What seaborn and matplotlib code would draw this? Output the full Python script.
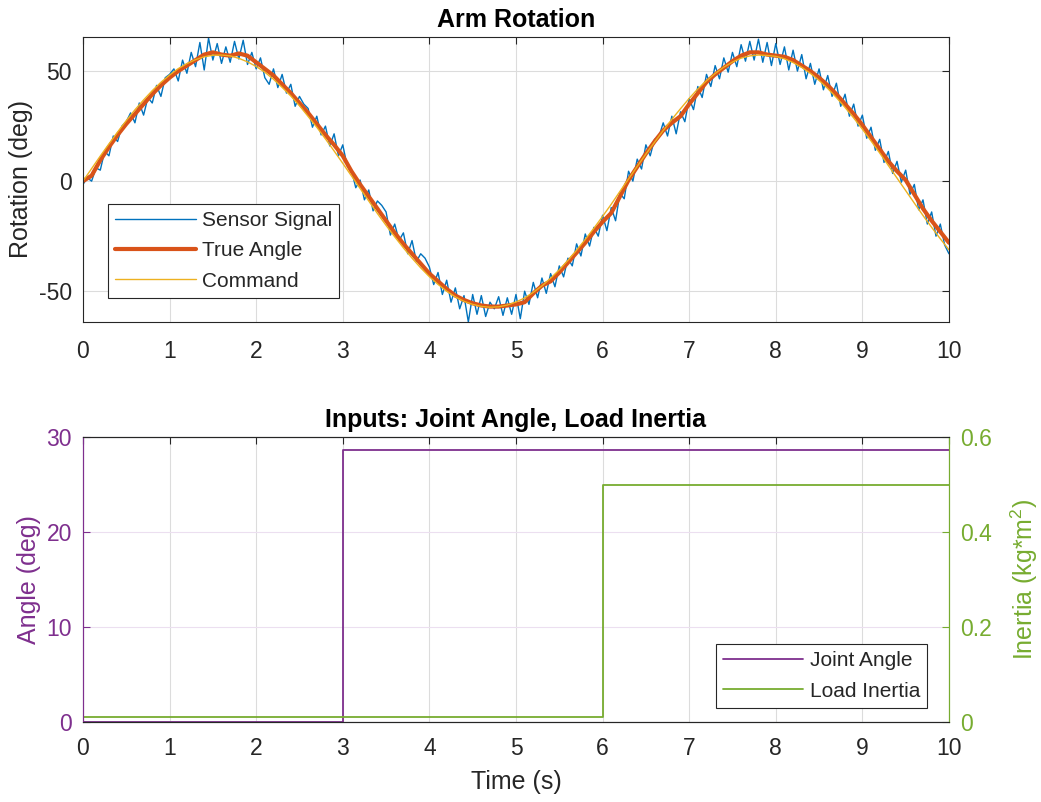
import numpy as np
import pandas as pd
import matplotlib
matplotlib.use('Agg')
import matplotlib.pyplot as plt
import seaborn as sns

# ---- data ----
# command, every 0.1 s
cmd_time = np.round(np.arange(0, 10.001, 0.1), 2)
command = [0.0, 5.7, 11.4, 16.9, 22.3, 27.5, 32.4, 36.9, 41.1, 44.9,
           48.2, 51.1, 53.4, 55.2, 56.5, 57.2, 57.3, 56.9, 55.8, 54.2,
           52.1, 49.5, 46.3, 42.6, 38.7, 34.3, 29.4, 24.5, 19.2, 13.7,
           8.1, 2.4, -3.3, -9.0, -14.7, -20.1, -25.3, -30.3, -35.0, -39.4,
           -43.4, -46.9, -50.0, -52.6, -54.6, -56.0, -56.9, -57.3, -57.1, -56.3,
           -54.9, -53.1, -50.5, -47.6, -44.1, -40.3, -36.0, -31.4, -26.5, -21.4,
           -16.0, -10.5, -4.7, 1.0, 6.7, 12.3, 17.7, 23.0, 28.1, 32.9,
           37.6, 41.9, 45.6, 48.9, 51.8, 54.1, 55.9, 56.9, 57.3, 57.1,
           56.7, 55.6, 53.9, 51.7, 49.0, 45.8, 42.1, 38.0, 33.5, 28.7,
           23.6, 18.3, 12.8, 7.1, 1.4, -4.3, -10.0, -15.6, -21.0, -26.2,
           -31.2]

# true angle, every 0.1 s
true_time = np.round(np.arange(0, 10.001, 0.1), 2)
true_angle = [0.0, 2.5, 9.5, 15.5, 21.0, 26.0, 30.5, 35.0, 39.5, 43.5,
              47.0, 50.0, 52.5, 55.0, 57.5, 58.5, 57.5, 57.0, 58.0, 57.0,
              54.0, 51.0, 48.0, 44.0, 40.0, 35.5, 31.0, 26.0, 21.0, 16.5,
              11.5, 4.5, -1.5, -7.0, -12.5, -18.0, -23.5, -28.5, -33.0, -37.5,
              -42.0, -45.5, -49.0, -52.0, -54.0, -55.5, -56.5, -57.0, -57.0, -56.5,
              -56.0, -55.0, -51.0, -47.5, -45.5, -41.5, -37.0, -32.5, -28.0, -23.0,
              -18.5, -14.5, -7.0, 0.5, 6.5, 12.5, 18.0, 23.0, 26.5, 29.5,
              35.0, 40.0, 45.0, 48.5, 51.5, 54.5, 57.0, 58.5, 58.5, 57.5,
              57.0, 56.5, 55.0, 52.5, 50.0, 47.0, 43.5, 39.5, 35.0, 30.5,
              25.5, 20.0, 14.5, 9.0, 4.5, 0.5, -6.0, -12.5, -18.0, -23.0,
              -28.0]

# noisy sensor, every 0.05 s
sensor_time = np.round(np.arange(0, 10.001, 0.05), 2)
sensor = [-1.5, 1.5, 0.0, 6.0, 5.0, 13.5, 11.5, 20.5, 18.0, 25.0,
          27.0, 31.0, 26.5, 35.5, 30.0, 38.0, 35.5, 43.5, 38.5, 47.0,
          48.5, 51.0, 45.5, 55.0, 49.0, 58.5, 52.0, 63.0, 50.5, 65.0,
          55.0, 62.5, 53.5, 61.0, 54.0, 63.5, 55.5, 64.0, 53.0, 58.5,
          51.0, 56.0, 47.0, 44.0, 51.0, 42.5, 48.5, 40.0, 44.0, 34.0,
          38.5, 35.0, 33.0, 24.5, 29.5, 21.0, 25.0, 16.0, 21.5, 11.5,
          16.5, 7.0, 5.0, -3.0, 0.5, -8.5, -4.0, -13.5, -9.0, -11.0,
          -14.0, -24.5, -19.5, -27.0, -23.5, -33.0, -27.0, -36.5, -33.0, -35.0,
          -39.0, -47.0, -41.5, -51.5, -45.0, -55.0, -48.5, -58.0, -52.0, -64.0,
          -51.5, -60.5, -52.0, -61.5, -55.0, -58.0, -52.5, -61.0, -53.0, -60.5,
          -51.5, -62.5, -50.0, -56.0, -46.0, -53.0, -44.0, -51.0, -42.0, -48.0,
          -38.5, -43.5, -35.0, -38.5, -28.5, -34.0, -24.0, -29.5, -21.0, -25.0,
          -15.5, -22.5, -12.0, -18.0, -5.5, -8.0, 4.5, 0.0, 10.0, 5.5,
          16.5, 11.5, 19.0, 20.0, 26.5, 20.5, 29.5, 21.5, 31.5, 27.0,
          37.5, 32.5, 43.0, 38.0, 48.5, 43.0, 52.5, 46.5, 56.0, 49.5,
          58.5, 52.0, 62.0, 54.5, 63.5, 55.0, 64.5, 54.0, 63.0, 52.5,
          62.5, 53.0, 61.0, 50.5, 59.5, 50.0, 57.5, 46.5, 53.5, 44.0,
          51.0, 41.5, 48.0, 38.5, 44.5, 34.0, 39.5, 29.5, 35.0, 25.0,
          30.0, 19.5, 24.5, 14.0, 19.0, 8.5, 13.5, 3.5, 9.0, -0.5,
          5.0, -6.0, -1.5, -13.0, -8.5, -19.5, -14.0, -25.0, -19.5, -29.0,
          -33.0]

# inputs (step signals)
joint_time = [0, 3, 10]
joint_angle = [0.0, 28.65, 28.65]
inertia_time = [0, 6, 10]
load_inertia = [0.01, 0.5, 0.5]

sns.set_style('white')
plt.rcParams['font.family'] = ['Liberation Sans', 'DejaVu Sans']
plt.rcParams['mathtext.fontset'] = 'custom'
plt.rcParams['mathtext.rm'] = 'Liberation Sans'
plt.rcParams['axes.unicode_minus'] = False

dark = '#262626'
blue = '#0072BD'
orange = '#D95319'
yellow = '#EDB120'
purple = '#7E2F8E'
green = '#77AC30'
grid_c = '#dcdcdc'
fs_tick = 16.5
fs_lab = 18
fs_leg = 15

fig = plt.figure(figsize=(10.41, 8.02), dpi=100)
ax1 = fig.add_axes([0.0797, 0.5985, 0.8319, 0.3554])
ax2 = fig.add_axes([0.0797, 0.0998, 0.8319, 0.3553])

# ---- top: arm rotation ----
sns.lineplot(x=sensor_time, y=sensor, ax=ax1, color=blue, linewidth=1.0,
             label='Sensor Signal', estimator=None)
sns.lineplot(x=true_time, y=true_angle, ax=ax1, color=orange, linewidth=3.0,
             label='True Angle', estimator=None)
sns.lineplot(x=cmd_time, y=command, ax=ax1, color=yellow, linewidth=1.0,
             label='Command', estimator=None)
ax1.set_xlim(0, 10)
ax1.set_ylim(-64, 65.5)
ax1.set_xticks(range(0, 11))
ax1.set_yticks([-50, 0, 50])
ax1.grid(True, color=grid_c, linewidth=0.8)
ax1.set_title('Arm Rotation', fontsize=fs_lab, fontweight='bold', color='black', pad=7)
ax1.set_ylabel('Rotation (deg)', fontsize=fs_lab, color=dark, labelpad=4)
ax1.tick_params(direction='in', length=5, width=0.8, colors=dark, labelsize=fs_tick,
                top=True, right=True)
ax1.tick_params(axis='x', pad=13)
ax1.tick_params(axis='y', pad=8)
for s in ax1.spines.values():
    s.set_color(dark)
    s.set_linewidth(0.8)
leg1 = ax1.legend(loc='lower left', bbox_to_anchor=(0.029, 0.084), borderaxespad=0,
                  fontsize=fs_leg, frameon=True, fancybox=False, framealpha=1,
                  edgecolor=dark, handlelength=3.85, handletextpad=0.3,
                  labelspacing=0.55, borderpad=0.35)
leg1.get_frame().set_linewidth(0.8)
for t in leg1.get_texts():
    t.set_color(dark)

# ---- bottom: inputs ----
ax3 = ax2.twinx()
sns.lineplot(x=joint_time, y=joint_angle, ax=ax2, color=purple, linewidth=1.3,
             drawstyle='steps-post', estimator=None, legend=False)
sns.lineplot(x=inertia_time, y=load_inertia, ax=ax3, color=green, linewidth=1.3,
             drawstyle='steps-post', estimator=None, legend=False)
ax2.set_xlim(0, 10)
ax2.set_ylim(0, 30)
ax3.set_ylim(0, 0.6)
ax2.set_xticks(range(0, 11))
ax2.set_yticks([0, 10, 20, 30])
ax3.set_yticks([0, 0.2, 0.4, 0.6])
ax3.set_yticklabels(['0', '0.2', '0.4', '0.6'])
ax2.xaxis.grid(True, color=grid_c, linewidth=0.8)
ax2.yaxis.grid(True, color='#ecdff0', linewidth=0.8)
ax2.set_title('Inputs: Joint Angle, Load Inertia', fontsize=fs_lab, fontweight='bold',
              color='black', pad=7)
ax2.set_xlabel('Time (s)', fontsize=fs_lab, color=dark, labelpad=7)
ax2.set_ylabel('Angle (deg)', fontsize=fs_lab, color=purple, labelpad=4)
ax3.set_ylabel('Inertia (kg*m$\\mathregular{^2}$)', fontsize=fs_lab, color=green, labelpad=12)
ax2.tick_params(axis='x', direction='in', length=5, width=0.8, colors=dark,
                labelsize=fs_tick, top=True, pad=11)
ax2.tick_params(axis='y', direction='in', length=5, width=0.8, colors=purple,
                labelsize=fs_tick, pad=8)
ax3.tick_params(axis='y', direction='in', length=5, width=0.8, colors=green,
                labelsize=fs_tick, pad=8)
for a in (ax2, ax3):
    for s in a.spines.values():
        s.set_color(dark)
        s.set_linewidth(0.8)
ax3.spines['left'].set_color(purple)
ax3.spines['right'].set_color(green)
ax2.spines['left'].set_color(purple)
ax2.spines['right'].set_color(green)

handles = ax2.get_lines()[:1] + ax3.get_lines()[:1]
leg2 = ax3.legend(handles, ['Joint Angle', 'Load Inertia'], loc='lower right',
                  bbox_to_anchor=(0.975, 0.049), borderaxespad=0,
                  fontsize=fs_leg, frameon=True, fancybox=False, framealpha=1,
                  edgecolor=dark, handlelength=3.85, handletextpad=0.3,
                  labelspacing=0.55, borderpad=0.35)
leg2.get_frame().set_linewidth(0.8)
for t in leg2.get_texts():
    t.set_color(dark)

fig.savefig('out.png', dpi=100, facecolor='white')
